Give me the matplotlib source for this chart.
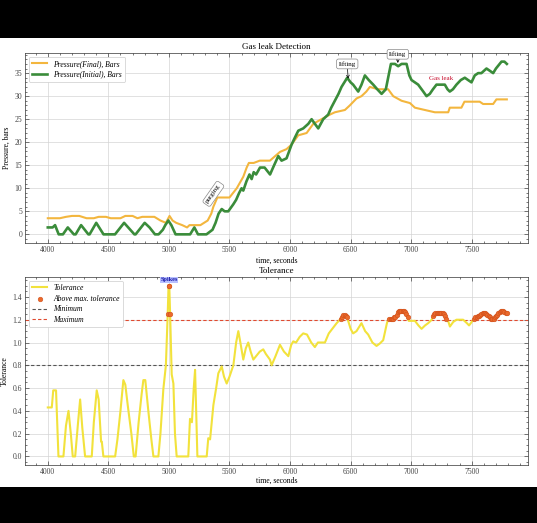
import numpy as np
import matplotlib
matplotlib.use("Agg")
import matplotlib.pyplot as plt
from matplotlib.patches import Rectangle

# pressure, initial (green)
t_initial = [4000, 4040, 4060, 4090, 4125, 4165, 4215, 4230, 4275, 4335, 4345, 4400, 4460, 4555,
             4630, 4715, 4725, 4800, 4840, 4885, 4915, 4950, 4970, 4995, 5020, 5055, 5175, 5210,
             5240, 5310, 5335, 5360, 5385, 5410, 5436, 5460, 5490, 5531, 5555, 5580, 5600, 5614,
             5640, 5665, 5683, 5700, 5720, 5752, 5790, 5820, 5835, 5860, 5903, 5930, 5971, 6013,
             6040, 6068, 6109, 6151, 6178, 6205, 6233, 6274, 6315, 6340, 6370, 6400, 6425, 6472,
             6500, 6521, 6563, 6590, 6618, 6650, 6687, 6720, 6756, 6791, 6810, 6833, 6866, 6893,
             6921, 6962, 6985, 7003, 7058, 7100, 7127, 7154, 7180, 7209, 7278, 7300, 7319, 7345,
             7374, 7410, 7443, 7470, 7498, 7525, 7553, 7580, 7622, 7650, 7677, 7700, 7746, 7770,
             7790]
p_initial = [1.5, 1.5, 2.0, 0.0, 0.0, 1.5, 0.0, 0.0, 2.0, 0.0, 0.0, 2.5, 0.0, 0.0,
             2.5, 0.0, 0.0, 2.5, 1.5, 0.0, 0.0, 1.0, 2.0, 3.0, 2.0, 0.0, 0.0, 1.5,
             0.0, 0.0, 0.5, 1.0, 2.5, 4.5, 5.5, 5.0, 5.0, 6.5, 7.5, 9.0, 10.0, 9.5,
             11.5, 13.0, 12.0, 13.5, 13.0, 14.5, 14.5, 13.5, 13.0, 14.5, 17.0, 16.0, 16.5, 19.5,
             21.0, 22.5, 23.0, 24.0, 25.0, 24.0, 23.0, 25.0, 26.0, 27.5, 29.0, 30.5, 32.0, 34.0,
             33.0, 32.5, 31.0, 32.5, 34.5, 33.5, 32.5, 31.5, 30.5, 31.5, 34.0, 37.0, 37.0, 36.5,
             37.0, 37.0, 34.5, 33.5, 32.5, 31.0, 30.0, 30.5, 31.5, 32.5, 32.5, 31.5, 31.0, 31.5,
             32.5, 33.5, 34.0, 33.5, 33.0, 34.5, 35.0, 35.0, 36.0, 35.5, 35.0, 36.0, 37.5, 37.5,
             37.0]

# pressure, final (orange)
t_final = [4000, 4100, 4150, 4200, 4260, 4320, 4380, 4420, 4480, 4520, 4600, 4640, 4700, 4740,
           4780, 4880, 4930, 4975, 5005, 5030, 5060, 5110, 5150, 5170, 5260, 5290, 5320, 5350,
           5367, 5400, 5500, 5560, 5614, 5642, 5660, 5700, 5750, 5834, 5917, 5971, 6013, 6068,
           6137, 6192, 6260, 6329, 6370, 6453, 6494, 6549, 6590, 6630, 6659, 6728, 6810, 6852,
           6921, 6990, 7031, 7113, 7196, 7306, 7319, 7415, 7440, 7566, 7594, 7677, 7704, 7790]
p_final = [3.5, 3.5, 3.8, 4.0, 4.0, 3.5, 3.5, 3.8, 3.8, 3.5, 3.5, 4.0, 4.0, 3.5,
           3.8, 3.8, 3.0, 2.5, 4.0, 3.0, 2.5, 2.0, 1.5, 2.0, 2.0, 2.5, 3.0, 4.5,
           6.0, 8.0, 8.0, 10.0, 12.5, 14.5, 15.5, 15.5, 16.0, 16.0, 17.9, 18.5, 19.5, 21.5,
           22.0, 24.0, 25.0, 26.0, 26.5, 27.0, 28.0, 29.5, 30.0, 31.0, 32.0, 31.5, 31.5, 30.0,
           29.0, 28.5, 27.5, 27.0, 26.5, 26.5, 27.5, 27.5, 28.8, 28.8, 28.3, 28.3, 29.3, 29.3]

# tolerance
t_tol = [4000, 4033, 4045, 4068, 4088, 4129, 4150, 4171, 4190, 4206, 4226, 4250, 4267, 4285,
         4308, 4363, 4380, 4404, 4420, 4440, 4446, 4459, 4556, 4575, 4600, 4624, 4640, 4660,
         4690, 4710, 4725, 4750, 4775, 4789, 4805, 4830, 4855, 4872, 4913, 4930, 4954, 4975,
         4990, 4997, 5003, 5010, 5023, 5037, 5050, 5064, 5160, 5174, 5190, 5205, 5216, 5228,
         5235, 5312, 5325, 5340, 5367, 5390, 5408, 5436, 5455, 5477, 5500, 5532, 5555, 5573,
         5590, 5614, 5635, 5655, 5675, 5697, 5720, 5750, 5779, 5800, 5834, 5848, 5880, 5917,
         5950, 5986, 6010, 6027, 6050, 6080, 6109, 6140, 6175, 6205, 6230, 6246, 6288, 6320,
         6356, 6385, 6411, 6420, 6430, 6440, 6450, 6460, 6470, 6480, 6500, 6521, 6549, 6590,
         6620, 6645, 6680, 6714, 6740, 6769, 6800, 6810, 6820, 6830, 6840, 6850, 6860, 6870,
         6880, 6890, 6900, 6910, 6920, 6930, 6940, 6950, 6960, 6970, 6980, 7031, 7060, 7086,
         7115, 7141, 7170, 7180, 7190, 7200, 7210, 7220, 7230, 7240, 7250, 7260, 7270, 7280,
         7290, 7305, 7320, 7347, 7374, 7429, 7460, 7478, 7500, 7510, 7520, 7530, 7540, 7550,
         7560, 7570, 7580, 7590, 7600, 7610, 7620, 7630, 7640, 7650, 7660, 7670, 7680, 7690,
         7700, 7710, 7720, 7730, 7740, 7750, 7760, 7770, 7780, 7788]
tolerance = [0.43, 0.43, 0.58, 0.58, 0.0, 0.0, 0.27, 0.40, 0.20, 0.0, 0.0, 0.30, 0.50, 0.25,
             0.0, 0.0, 0.30, 0.58, 0.50, 0.13, 0.13, 0.0, 0.0, 0.15, 0.40, 0.67, 0.63, 0.45,
             0.20, 0.0, 0.0, 0.30, 0.55, 0.67, 0.67, 0.40, 0.15, 0.0, 0.0, 0.20, 0.59, 0.80,
             1.25, 1.50, 1.50, 1.25, 0.72, 0.64, 0.20, 0.0, 0.0, 0.33, 0.30, 0.60, 0.76, 0.30,
             0.0, 0.0, 0.16, 0.15, 0.45, 0.60, 0.73, 0.79, 0.70, 0.64, 0.70, 0.80, 1.00, 1.10,
             1.00, 0.85, 0.95, 1.00, 0.92, 0.85, 0.88, 0.92, 0.94, 0.90, 0.85, 0.80, 0.88, 0.98,
             0.92, 0.88, 0.98, 1.01, 1.00, 1.05, 1.08, 1.07, 1.00, 0.96, 1.00, 1.00, 1.00, 1.08,
             1.13, 1.17, 1.20, 1.21, 1.22, 1.24, 1.24, 1.23, 1.22, 1.19, 1.12, 1.08, 1.10, 1.17,
             1.10, 1.07, 1.00, 0.97, 0.99, 1.02, 1.17, 1.20, 1.21, 1.21, 1.21, 1.21, 1.22, 1.22,
             1.24, 1.27, 1.28, 1.28, 1.28, 1.28, 1.28, 1.27, 1.25, 1.22, 1.19, 1.19, 1.15, 1.12,
             1.15, 1.17, 1.20, 1.23, 1.25, 1.26, 1.26, 1.26, 1.26, 1.26, 1.26, 1.26, 1.25, 1.23,
             1.21, 1.19, 1.14, 1.18, 1.20, 1.20, 1.17, 1.15, 1.18, 1.20, 1.21, 1.22, 1.22, 1.23,
             1.23, 1.24, 1.25, 1.26, 1.26, 1.26, 1.25, 1.24, 1.23, 1.22, 1.21, 1.21, 1.21, 1.22,
             1.23, 1.24, 1.26, 1.27, 1.28, 1.28, 1.28, 1.27, 1.26, 1.26]

tol_min = 0.8
tol_max = 1.2

plt.rcParams['font.family'] = ['Liberation Serif', 'DejaVu Serif']
plt.rcParams['xtick.direction'] = 'in'
plt.rcParams['ytick.direction'] = 'in'
plt.rcParams['xtick.top'] = True
plt.rcParams['ytick.right'] = True
plt.rcParams['xtick.minor.visible'] = True
plt.rcParams['ytick.minor.visible'] = True
plt.rcParams['xtick.major.size'] = 3
plt.rcParams['ytick.major.size'] = 3
plt.rcParams['xtick.minor.size'] = 1.5
plt.rcParams['ytick.minor.size'] = 1.5
plt.rcParams['xtick.major.width'] = 0.5
plt.rcParams['ytick.major.width'] = 0.5
plt.rcParams['xtick.minor.width'] = 0.5
plt.rcParams['ytick.minor.width'] = 0.5
plt.rcParams['axes.linewidth'] = 0.5
plt.rcParams['axes.edgecolor'] = '#333333'
plt.rcParams['xtick.color'] = '#444444'
plt.rcParams['ytick.color'] = '#444444'

fig = plt.figure(figsize=(5.37, 5.23), dpi=100, facecolor='black')
fig.patches.append(Rectangle((0, 0.0688), 1, 0.8585, transform=fig.transFigure,
                             facecolor='white', edgecolor='none', zorder=-10))

ax1 = fig.add_axes([0.0466, 0.5354, 0.9367, 0.3633])
ax2 = fig.add_axes([0.0466, 0.1109, 0.9367, 0.3595])

# --- top: pressures ---
ax1.plot(t_final, p_final, color='#f3b63e', lw=1.5, label='Pressure(Final), Bars', zorder=3)
ax1.plot(t_initial, p_initial, color='#3a8c3a', lw=1.9, label='Pressure(Initial), Bars', zorder=4)
ax1.set_title('Gas leak Detection', fontsize=6.5, pad=3)
ax1.set_xlabel('time, seconds', fontsize=5.5, labelpad=2)
ax1.set_ylabel('Pressure, bars', fontsize=5.5, labelpad=3)
ax1.set_yticks(range(0, 40, 5))

box = dict(boxstyle='round,pad=0.3', fc='white', ec='#888888', lw=0.5)
ax1.annotate('lifting', xy=(6480, 33.8), xytext=(6472, 37.0), fontsize=5, ha='center',
             va='center', bbox=box, zorder=6,
             arrowprops=dict(arrowstyle='->', color='black', lw=0.5, shrinkA=0, shrinkB=0))
ax1.annotate('lifting', xy=(6890, 37.2), xytext=(6890, 39.1), fontsize=5, ha='center',
             va='center', bbox=box, annotation_clip=False, zorder=6,
             arrowprops=dict(arrowstyle='->', color='black', lw=0.5, shrinkA=0, shrinkB=0))
ax1.text(5367, 8.8, 'purging', rotation=55, fontsize=5, ha='center', va='center', bbox=box, zorder=6)
ax1.text(7245, 33.9, 'Gas leak', color='#c8102e', fontsize=5, ha='center', va='center')

# --- bottom: tolerance ---
t_arr = np.array(t_tol)
tol_arr = np.array(tolerance)
above = tol_arr > tol_max
ax2.plot(t_tol, tolerance, color='#f2e23c', lw=1.5, label='Tolerance', zorder=3)
ax2.scatter(t_arr[above], tol_arr[above], s=11, color='#ea6a2c', edgecolors='#d2501c',
            linewidths=0.4, label='Above max. tolerance', zorder=4)
ax2.axhline(tol_min, color='#555555', ls=(0, (3, 2)), lw=0.8, label='Minimum', zorder=2)
ax2.axhline(tol_max, color='#e04a30', ls=(0, (3, 2)), lw=0.8, label='Maximum', zorder=2)
ax2.set_title('Tolerance', fontsize=6.5, pad=3)
ax2.set_xlabel('time, seconds', fontsize=5.5, labelpad=1)
ax2.set_ylabel('Tolerance', fontsize=5.5, labelpad=3)
ax2.text(5000, 1.55, 'Spikes', color='#1a1aa8', fontsize=4.5, fontweight='bold', ha='center',
         va='center', bbox=dict(boxstyle='square,pad=0.1', fc='#b8c0ff', ec='none'), zorder=6)

for ax in (ax1, ax2):
    ax.set_facecolor('white')
    ax.set_xlim(3812, 7965)
    ax.set_xticks(range(4000, 8000, 500))
    ax.grid(True, color='#d4d4d4', lw=0.5)
    ax.set_axisbelow(True)
    ax.tick_params(labelsize=5.5, pad=2)
    leg = ax.legend(loc='upper left', prop={'style': 'italic', 'size': 5.5},
                    frameon=True, fancybox=True, framealpha=1, edgecolor='#cccccc',
                    handlelength=2, borderpad=0.4, labelspacing=0.35)
    leg.get_frame().set_linewidth(0.5)

ax2.set_yticks(np.arange(0, 1.41, 0.2))
ax2.set_yticklabels([f'{v:.1f}' for v in np.arange(0, 1.41, 0.2)])

fig.savefig('out.png', dpi=100, facecolor=fig.get_facecolor())
